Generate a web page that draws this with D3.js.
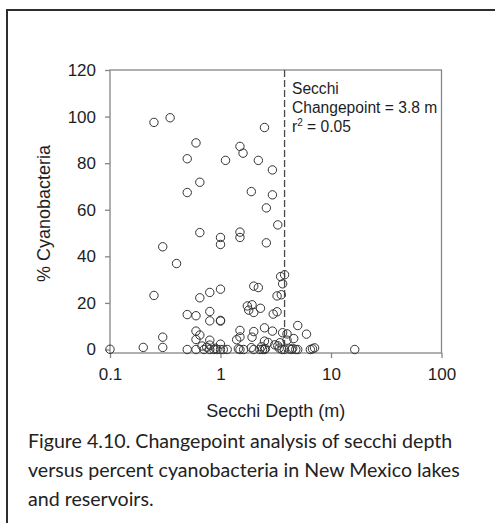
<!DOCTYPE html>
<html>
<head>
<meta charset="utf-8">
<script src="https://cdn.jsdelivr.net/npm/d3@7"></script>
<style>
  body { margin: 0; background: #fff; }
  svg { display: block; }
</style>
</head>
<body>
<div id="chart"></div>
<script>
// secchi depth (m) and % cyanobacteria
var secchi = [0.25, 0.35, 2.5, 0.6, 1.5, 1.6, 0.5, 1.11, 2.2, 2.95,
  0.65, 0.5, 1.9, 2.95, 2.6, 3.3, 0.65, 1.5, 1.5, 1.0,
  1.0, 2.6, 0.3, 0.4, 0.25, 0.65, 0.8, 1.0, 2.0, 2.2,
  3.5, 3.8, 3.65, 3.25, 3.55, 1.75, 1.93, 1.8, 2.0, 2.3,
  3.0, 3.25, 0.5, 0.6, 0.8, 0.8, 1.0, 1.0, 0.6, 0.6,
  0.65, 0.3, 0.8, 1.5, 1.5, 1.4, 2.0, 1.93, 2.5, 2.95,
  2.5, 2.7, 3.1, 3.65, 4.0, 4.0, 4.6, 5.0, 6.0, 3.45,
  0.2, 0.3, 0.1, 0.5, 0.6, 0.71, 0.8, 0.87, 0.93, 1.0,
  1.06, 1.15, 1.0, 0.8, 1.5, 1.62, 2.0, 2.27, 2.4, 2.5,
  3.6, 3.78, 4.4, 5.0, 6.5, 7.1, 16.4, 0.75, 0.9, 1.45,
  2.35, 2.55, 3.4, 4.2, 4.8, 6.8, 0.68, 1.9, 3.3, 4.5]
var cyano = [97.5, 99.5, 95.3, 88.7, 87.2, 84.3, 81.9, 81.2, 81.2, 77.1,
  71.8, 67.4, 67.8, 66.4, 60.8, 53.5, 50.2, 50.4, 48.1, 48.1,
  45.1, 45.8, 44.1, 36.9, 23.2, 22.2, 24.5, 25.9, 27.2, 26.6,
  31.3, 32.1, 28.2, 23.0, 23.5, 18.7, 19.2, 16.9, 15.9, 17.7,
  15.2, 16.2, 15.0, 14.5, 16.3, 12.3, 12.5, 12.2, 7.9, 4.3,
  6.2, 5.3, 4.0, 8.2, 5.4, 4.2, 7.7, 5.3, 9.3, 7.9,
  3.6, 3.0, 2.0, 7.2, 6.7, 4.0, 4.7, 10.3, 6.6, 2.9,
  0.9, 0.9, 0.1, 0, 0, 0, 0, 0, 0, 0,
  0, 0, 2.3, 1.9, 0, 0, 0, 0, 0, 0,
  0, 0, 0, 0, 0, 0.7, 0, 1.0, 0.5, 0.3,
  1.2, 0.4, 0.6, 0.2, 0, 0.3, 1.5, 0.8, 1.6, 0.5]

var xTicks = [0.1, 1, 10, 100]
var xTickLabels = ["0.1", "1", "10", "100"]
var yTicks = [0, 20, 40, 60, 80, 100, 120]

var changepoint = 3.8
var noteLines = ["Secchi", "Changepoint = 3.8 m"]
var rsqText = " = 0.05"
var xTitle = "Secchi Depth (m)"
var yTitle = "% Cyanobacteria"
var caption = ["Figure 4.10. Changepoint analysis of secchi depth",
  "versus percent cyanobacteria in New Mexico lakes",
  "and reservoirs."]

var w = 495, h = 523
var plotL = 110, plotR = 441.5, plotT = 70, plotB = 353
var axisGray = "#868686"
var font = "Arial, 'Liberation Sans', sans-serif"

var svg = d3.select("#chart").append("svg")
  .attr("width", w)
  .attr("height", h)

// frame around the figure (left and top edges show)
svg.append("path")
  .attr("d", "M7," + h + " V10 H" + w)
  .attr("fill", "none")
  .attr("stroke", "#2e2e2e")
  .attr("stroke-width", 2)

var xScale = d3.scaleLog()
  .domain([0.1, 100])
  .range([plotL, plotR])

var yScale = d3.scaleLinear()
  .domain([-1.5, 120])
  .range([plotB, plotT])

// plot box
svg.append("rect")
  .attr("x", plotL)
  .attr("y", plotT)
  .attr("width", plotR - plotL)
  .attr("height", plotB - plotT)
  .attr("fill", "none")
  .attr("stroke", axisGray)
  .attr("stroke-width", 1.3)

var xAxis = d3.axisBottom(xScale)
  .tickValues(xTicks)
  .tickFormat(function(d, i) { return xTickLabels[i] })
  .tickSize(5)
  .tickPadding(10)

var yAxis = d3.axisLeft(yScale)
  .tickValues(yTicks)
  .tickSize(5)
  .tickPadding(9)

var gx = svg.append("g")
  .attr("transform", "translate(0," + plotB + ")")
  .call(xAxis)
var gy = svg.append("g")
  .attr("transform", "translate(" + plotL + ",0)")
  .call(yAxis)

;[gx, gy].forEach(function(g) {
  g.select(".domain").remove()
  g.selectAll(".tick line").attr("stroke", axisGray).attr("stroke-width", 1.3)
  g.selectAll(".tick text")
    .attr("fill", "#1e1e1e")
    .style("font-family", font)
    .style("font-size", "17px")
})

// changepoint line
svg.append("line")
  .attr("x1", xScale(changepoint))
  .attr("x2", xScale(changepoint))
  .attr("y1", plotT)
  .attr("y2", plotB)
  .attr("stroke", "#4a4a4a")
  .attr("stroke-width", 1.3)
  .attr("stroke-dasharray", "7,3")

svg.append("g").selectAll("circle")
  .data(secchi)
  .enter().append("circle")
  .attr("cx", function(d) { return xScale(d) })
  .attr("cy", function(d, i) { return yScale(cyano[i]) })
  .attr("r", 4.2)
  .attr("fill", "none")
  .attr("stroke", "#333")
  .attr("stroke-width", 1)

var note = svg.append("g")
  .style("font-family", font)
  .style("font-size", "15.6px")
  .attr("fill", "#1e1e1e")
noteLines.forEach(function(t, i) {
  note.append("text")
    .attr("x", 292)
    .attr("y", 94 + i * 19)
    .text(t)
})
var rsq = note.append("text")
  .attr("x", 292)
  .attr("y", 132)
rsq.append("tspan").text("r")
rsq.append("tspan").attr("dy", -6).style("font-size", "10px").text("2")
rsq.append("tspan").attr("dy", 6).text(rsqText)

svg.append("text")
  .attr("x", (plotL + plotR) / 2)
  .attr("y", 417)
  .attr("text-anchor", "middle")
  .style("font-family", font)
  .style("font-size", "18px")
  .attr("fill", "#1e1e1e")
  .text(xTitle)

svg.append("text")
  .attr("transform", "translate(50," + ((plotT + plotB) / 2 + 2) + ") rotate(-90)")
  .attr("text-anchor", "middle")
  .style("font-family", font)
  .style("font-size", "18px")
  .attr("fill", "#1e1e1e")
  .text(yTitle)

svg.append("g").selectAll("text")
  .data(caption)
  .enter().append("text")
  .attr("x", 28)
  .attr("y", function(d, i) { return 448 + i * 29 })
  .style("font-family", "Lato, 'Open Sans', sans-serif")
  .style("font-size", "19.6px")
  .attr("fill", "#222")
  .text(function(d) { return d })
</script>
</body>
</html>
